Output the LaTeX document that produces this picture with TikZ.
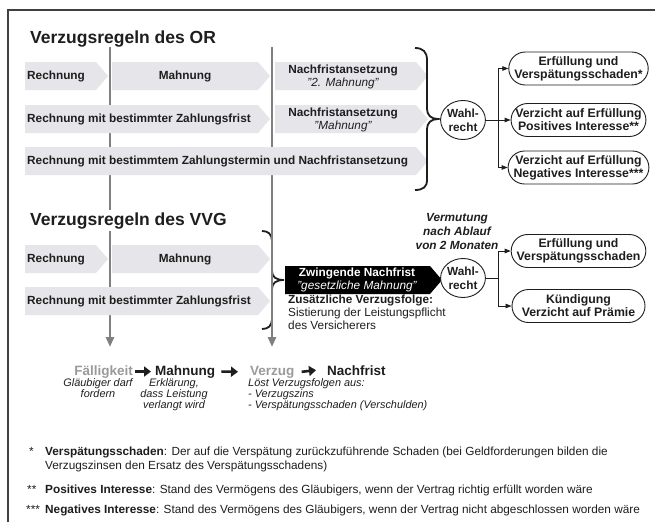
\documentclass[tikz,border=0pt]{standalone}
\usepackage{fontspec}
\setmainfont{Liberation Sans}
\usetikzlibrary{shapes.geometric,shapes.misc,arrows.meta}

\definecolor{ink}{HTML}{1E1E1E}
\definecolor{bandgray}{HTML}{E6E6EA}
\definecolor{rulegray}{HTML}{808080}
\definecolor{softgray}{HTML}{9A9A9A}

\newcommand{\sztitle}{\fontsize{17.5}{20}\selectfont}
\newcommand{\szbody}{\fontsize{11.8}{13}\selectfont}
\newcommand{\szoval}{\fontsize{12.3}{13}\selectfont}
\newcommand{\szstep}{\fontsize{13.5}{15}\selectfont}
\newcommand{\sznote}{\fontsize{10.9}{11}\selectfont}
\newcommand{\szfoot}{\fontsize{11.8}{14}\selectfont}

% arrow-shaped band: colour, left x, tip x, centre y
\newcommand{\bandpath}[4]{%
  \fill[#1] (#2,#4-14) -- (#3-12,#4-14) -- (#3,#4) -- (#3-12,#4+14) -- (#2,#4+14) -- cycle;}

\begin{document}
\begin{tikzpicture}[x=1pt,y=-1pt,
  bandtxt/.style={font=\szbody\bfseries, text=ink, inner sep=0, align=center},
  title/.style={font=\sztitle\bfseries, text=ink, anchor=base west, inner sep=2pt},
  choice/.style={ellipse, draw=ink, line width=0.9pt, minimum width=43pt, minimum height=39pt,
    inner sep=0, font=\fontsize{11.8}{14}\selectfont\bfseries, text=ink, align=center, fill=white},
  outcome/.style={rounded rectangle, draw=ink, line width=0.9pt, minimum width=133pt,
    minimum height=33pt, inner sep=0, font=\szoval\bfseries, text=ink, align=center, fill=white},
  flow/.style={draw=ink, line width=0.8pt, -{Triangle[length=6pt,width=4.5pt]}},
  timeline/.style={draw=rulegray, line width=2.6pt, -{Triangle[length=10pt,width=8pt]}},
  brace/.style={draw=ink, line width=1.8pt},
  stepword/.style={font=\szstep\bfseries, inner sep=0},
  steparrow/.style={draw=ink, line width=2.6pt, -{Triangle[length=7pt,width=10pt]}},
  note/.style={font=\sznote\itshape, text=ink, inner sep=0},
  foot/.style={font=\szfoot, text=ink, inner sep=0, anchor=base west},
]
\useasboundingbox (0,0) rectangle (655,522);
\fill[white] (0,0) rectangle (655,522);

% frame
\draw[ink!85, line width=1.2pt] (8,522) -- (8,10) -- (655,10);

% brace of the VVG block, lies under the second time line
\draw[brace] (262,231) .. controls (268,231) and (272,234) .. (272,241) -- (272,271)
  .. controls (272,277) and (276,280) .. (284,280)
  .. controls (276,280) and (272,283) .. (272,289) -- (272,319)
  .. controls (272,326) and (268,329) .. (262,329);

% time lines
\coordinate (t1a) at (110,47);
\coordinate (t1b) at (110,347);
\coordinate (t2a) at (272,47);
\coordinate (t2b) at (272,347);
\draw[timeline] (t1a) -- (t1b);
\draw[timeline] (t2a) -- (t2b);

% ---------- Verzugsregeln des OR ----------
\node[title] (tor) at (28,43) {Verzugsregeln des OR};

\bandpath{bandgray}{25}{108}{76}
\bandpath{bandgray}{112}{270}{76}
\bandpath{bandgray}{275}{428}{76}
\bandpath{bandgray}{25}{270}{119}
\bandpath{bandgray}{275}{428}{119}
\bandpath{bandgray}{25}{428}{161}

\node[bandtxt, anchor=west] (r1) at (27,76) {Rechnung};
\node[bandtxt] (m1) at (185,76) {Mahnung};
\node[bandtxt] (n1) at (343,76.5) {Nachfristansetzung\\{\mdseries\itshape "2. Mahnung"}};
\node[bandtxt, anchor=west] (r2) at (27,119) {Rechnung mit bestimmter Zahlungsfrist};
\node[bandtxt] (n2) at (343,119.5) {Nachfristansetzung\\{\mdseries\itshape "Mahnung"}};
\node[bandtxt, anchor=west] (r3) at (27,161) {Rechnung mit bestimmtem Zahlungstermin und Nachfristansetzung};

\draw[brace] (415,48) .. controls (423,48) and (427,52) .. (427,60) -- (427,109)
  .. controls (427,115) and (431,119) .. (438,119)
  .. controls (431,119) and (427,123) .. (427,129) -- (427,180)
  .. controls (427,187) and (423,190) .. (415,190);

\node[choice] (w1) at (463,120) {Wahl-\\recht};
\coordinate (j1) at (498,120);
\node[outcome] (o1) at (578.5,68.5) {Erfüllung und\\Verspätungsschaden*};
\node[outcome] (o2) at (578.5,120) {Verzicht auf Erfüllung\\Positives Interesse**};
\node[outcome] (o3) at (578.5,167.5) {Verzicht auf Erfüllung\\Negatives Interesse***};
\draw[ink, line width=0.8pt] (w1.east) -- (j1);
\draw[flow] (j1) |- (o1.west);
\draw[flow] (j1) -- (o2.west);
\draw[flow] (j1) |- (o3.west);

% ---------- Verzugsregeln des VVG ----------
\node[title, fill=white] (tvvg) at (28,225) {Verzugsregeln des VVG};

\bandpath{bandgray}{25}{108}{259}
\bandpath{bandgray}{112}{270}{259}
\bandpath{bandgray}{25}{270}{301}

\node[bandtxt, anchor=west] (r4) at (27,259) {Rechnung};
\node[bandtxt] (m4) at (185,259) {Mahnung};
\node[bandtxt, anchor=west] (r5) at (27,301) {Rechnung mit bestimmter Zahlungsfrist};

\bandpath{black}{285}{442}{280}
\node[bandtxt, text=white] (zn) at (357,280) {Zwingende Nachfrist\\{\mdseries\itshape "gesetzliche Mahnung"}};
\node[font=\szbody, text=ink, inner sep=0, anchor=north west, align=left] (zf) at (288,295)
  {\textbf{Zusätzliche Verzugsfolge:}\\Sistierung der Leistungspflicht\\des Versicherers};

\node[font=\fontsize{11.8}{14}\selectfont\bfseries\itshape, text=ink, inner sep=0, align=center]
  (vm) at (457,231) {Vermutung\\nach Ablauf\\von 2 Monaten};

\node[choice] (w2) at (463,278) {Wahl-\\recht};
\coordinate (j2) at (498,278);
\node[outcome] (o4) at (578.5,251) {Erfüllung und\\Verspätungsschaden};
\node[outcome] (o5) at (578.5,306) {Kündigung\\Verzicht auf Prämie};
\draw[ink, line width=0.8pt] (w2.east) -- (j2);
\draw[flow] (j2) |- (o4.west);
\draw[flow] (j2) |- (o5.west);

% ---------- sequence of steps ----------
\node[stepword, text=softgray, anchor=base east] (sf) at (133,375) {Fälligkeit};
\node[stepword, text=ink, anchor=base west] (sm) at (155,375) {Mahnung};
\node[stepword, text=softgray, anchor=base west] (sv) at (250,375) {Verzug};
\node[stepword, text=ink, anchor=base west] (sn) at (327,375) {Nachfrist};
\draw[steparrow] ([xshift=2pt]sf.east) -- ([xshift=-4pt]sm.west);
\draw[steparrow] ([xshift=6pt]sm.east) -- ([xshift=-12pt]sv.west);
\draw[steparrow] ([xshift=7pt]sv.east) -- ([xshift=-11pt]sn.west);

\node[note, anchor=north, align=center] (nf) at (98,378) {Gläubiger darf\\fordern};
\node[note, anchor=north, align=center] (nm) at (174,378) {Erklärung,\\dass Leistung\\verlangt wird};
\node[note, anchor=north west, align=left] (nv) at (248,378)
  {Löst Verzugsfolgen aus:\\- Verzugszins\\- Verspätungsschaden (Verschulden)};

% ---------- footnotes ----------
\node[foot] (s1) at (29,455) {*};
\node[foot] (f1) at (45,455) {\textbf{Verspätungsschaden}: Der auf die Verspätung zurückzuführende Schaden (bei Geldforderungen bilden die};
\node[foot] (f1b) at (45,469) {Verzugszinsen den Ersatz des Verspätungsschadens)};
\node[foot] (s2) at (27,493) {**};
\node[foot] (f2) at (45,493) {\textbf{Positives Interesse}: Stand des Vermögens des Gläubigers, wenn der Vertrag richtig erfüllt worden wäre};
\node[foot] (s3) at (26,513) {***};
\node[foot] (f3) at (45,513) {\textbf{Negatives Interesse}: Stand des Vermögens des Gläubigers, wenn der Vertrag nicht abgeschlossen worden wäre};
\end{tikzpicture}
\end{document}
